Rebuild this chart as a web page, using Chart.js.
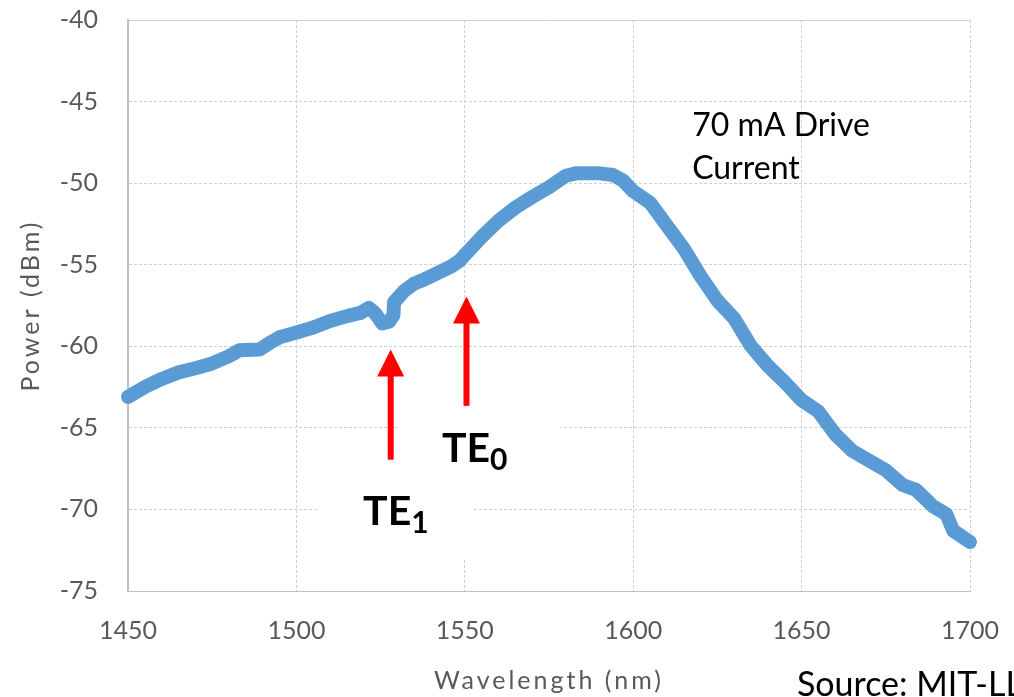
<!DOCTYPE html>
<html>
<head>
<meta charset="utf-8">
<script src="https://cdn.jsdelivr.net/npm/chart.js@4"></script>
<style>
  html, body { margin: 0; padding: 0; background: #fff; }
</style>
</head>
<body>
<canvas id="spectrumChart" width="1014" height="697"></canvas>
<script>
const wavelengths = [1450, 1455, 1460, 1465, 1470, 1475, 1480, 1483, 1489, 1492, 1495, 1500, 1505, 1510, 1515, 1519,
  1521.5, 1523.5, 1525.5, 1527.5, 1528.8, 1529, 1532, 1535, 1538, 1542, 1546, 1548.5, 1550, 1555, 1560, 1565, 1570,
  1575, 1580, 1583, 1590, 1594, 1597, 1600, 1605, 1610, 1615, 1620, 1625, 1630, 1635, 1640, 1645, 1650, 1655, 1660,
  1665, 1670, 1675, 1680, 1684, 1689, 1693, 1695, 1700];
const powerDbm = [-63.1, -62.5, -62.0, -61.6, -61.35, -61.05, -60.6, -60.25, -60.2, -59.8, -59.45, -59.15, -58.85, -58.45, -58.15, -57.95,
  -57.65, -58.0, -58.6, -58.5, -58.1, -57.3, -56.6, -56.15, -55.9, -55.5, -55.1, -54.75, -54.4, -53.3, -52.3, -51.5, -50.85,
  -50.25, -49.55, -49.4, -49.4, -49.5, -49.85, -50.5, -51.2, -52.6, -54.0, -55.7, -57.2, -58.3, -60.0, -61.2, -62.2, -63.3, -64.0, -65.4,
  -66.4, -67.0, -67.6, -68.5, -68.8, -69.8, -70.3, -71.3, -72.0];

const xTicks = [1450, 1500, 1550, 1600, 1650, 1700];
const yTicks = [-40, -45, -50, -55, -60, -65, -70, -75];

// mode markers: arrow at a wavelength, from tail up to tip (dBm), label anchor
const modeArrows = [
  { name: 'TE', sub: '1', at: 1528, tip: -60.2, tail: -66.95, labelX: 1519.8, labelY: -70.95 },
  { name: 'TE', sub: '0', at: 1550.5, tip: -56.95, tail: -63.65, labelX: 1543.2, labelY: -67.08 }
];

const axisGray = '#595959';
const gridGray = '#d0d0d0';

// the axis titles in the original are letter-spaced
function spaceTitle(scale) {
  if (scale._spacedTitle) return;
  scale._spacedTitle = true;
  const base = scale.drawTitle;
  scale.drawTitle = function() {
    this.ctx.save();
    this.ctx.letterSpacing = '3px';
    base.call(this);
    this.ctx.restore();
  };
}

const annotations = {
  id: 'annotations',
  beforeDatasetsDraw(chart) {
    // white label boxes that hide grid lines behind the TE labels
    const { ctx, scales: { x, y } } = chart;
    ctx.save();
    ctx.fillStyle = '#fff';
    ctx.fillRect(x.getPixelForValue(1530.5), y.getPixelForValue(-63.7), 161, 76);
    ctx.fillRect(x.getPixelForValue(1506), y.getPixelForValue(-68.2), 157, 78);
    ctx.restore();
  },
  afterDatasetsDraw(chart) {
    const { ctx, scales: { x, y } } = chart;
    ctx.save();
    modeArrows.forEach(function(m) {
      const px = x.getPixelForValue(m.at);
      const tipY = y.getPixelForValue(m.tip);
      const tailY = y.getPixelForValue(m.tail);
      ctx.fillStyle = '#ff0000';
      ctx.fillRect(px - 3, tipY + 24, 6, tailY - tipY - 24);
      ctx.beginPath();
      ctx.moveTo(px, tipY);
      ctx.lineTo(px - 13.5, tipY + 27);
      ctx.lineTo(px + 13.5, tipY + 27);
      ctx.closePath();
      ctx.fill();
    });

    ctx.fillStyle = '#000';
    ctx.textBaseline = 'alphabetic';
    modeArrows.forEach(function(m) {
      const lx = x.getPixelForValue(m.labelX);
      const ly = y.getPixelForValue(m.labelY);
      ctx.font = 'bold 41px Lato';
      ctx.fillText(m.name, lx, ly);
      const w = ctx.measureText(m.name).width;
      ctx.font = 'bold 30px Lato';
      ctx.fillText(m.sub, lx + w, ly + 8);
    });

    ctx.font = '32px Lato';
    ctx.textBaseline = 'middle';
    const tx = x.getPixelForValue(1617.5);
    ctx.fillText('70 mA Drive', tx, y.getPixelForValue(-46.45));
    ctx.fillText('Current', tx, y.getPixelForValue(-49.1));

    ctx.font = '34px Lato';
    ctx.fillText('Source: MIT-LL', x.getPixelForValue(1648.6), chart.height - 12);
    ctx.restore();
  }
};

new Chart(document.getElementById('spectrumChart').getContext('2d'), {
  type: 'scatter',
  data: {
    datasets: [{
      label: '70 mA',
      data: wavelengths.map(function(w, i) { return { x: w, y: powerDbm[i] }; }),
      showLine: true,
      borderColor: '#5b9bd5',
      backgroundColor: '#5b9bd5',
      borderWidth: 14,
      borderCapStyle: 'round',
      borderJoinStyle: 'round',
      pointRadius: 0,
      tension: 0,
      clip: false
    }]
  },
  options: {
    responsive: false,
    animation: false,
    layout: { padding: { top: 20, right: 44, left: 0, bottom: 0 } },
    plugins: {
      legend: { display: false },
      tooltip: { enabled: false }
    },
    scales: {
      x: {
        type: 'linear',
        min: 1450,
        max: 1700,
        afterBuildTicks: function(scale) { scale.ticks = xTicks.map(function(v) { return { value: v }; }); },
        afterFit: function(scale) {
          scale.height = 106;
          scale.paddingLeft = 0;
          scale.paddingRight = 0;
          spaceTitle(scale);
        },
        grid: { color: gridGray, lineWidth: 1, drawTicks: false },
        border: { display: true, color: '#c0c0c0', width: 1, dash: [3, 2] },
        ticks: {
          color: axisGray,
          padding: 25,
          font: { family: 'Lato', size: 25 },
          callback: function(v) { return String(v); }
        },
        title: {
          display: true,
          text: 'Wavelength (nm)',
          color: axisGray,
          font: { family: 'Lato', size: 25 },
          padding: { top: 0, bottom: 1 }
        }
      },
      y: {
        min: -75,
        max: -40,
        afterBuildTicks: function(scale) { scale.ticks = yTicks.map(function(v) { return { value: v }; }); },
        afterFit: function(scale) {
          scale.width = 128;
          scale.paddingTop = 0;
          scale.paddingBottom = 0;
          spaceTitle(scale);
        },
        grid: { color: gridGray, lineWidth: 1, drawTicks: false },
        border: {
          display: true,
          color: '#bfbfbf',
          width: 2,
          dash: function(ctx) { return ctx.tick && ctx.tick.value === -40 ? [] : [3, 2]; }
        },
        ticks: {
          color: axisGray,
          padding: 30,
          font: { family: 'Lato', size: 25 },
          callback: function(v) { return String(v); }
        },
        title: {
          display: true,
          text: 'Power (dBm)',
          color: axisGray,
          font: { family: 'Lato', size: 25 },
          padding: { top: 16, bottom: 0 }
        }
      }
    }
  },
  plugins: [annotations]
});
</script>
</body>
</html>
